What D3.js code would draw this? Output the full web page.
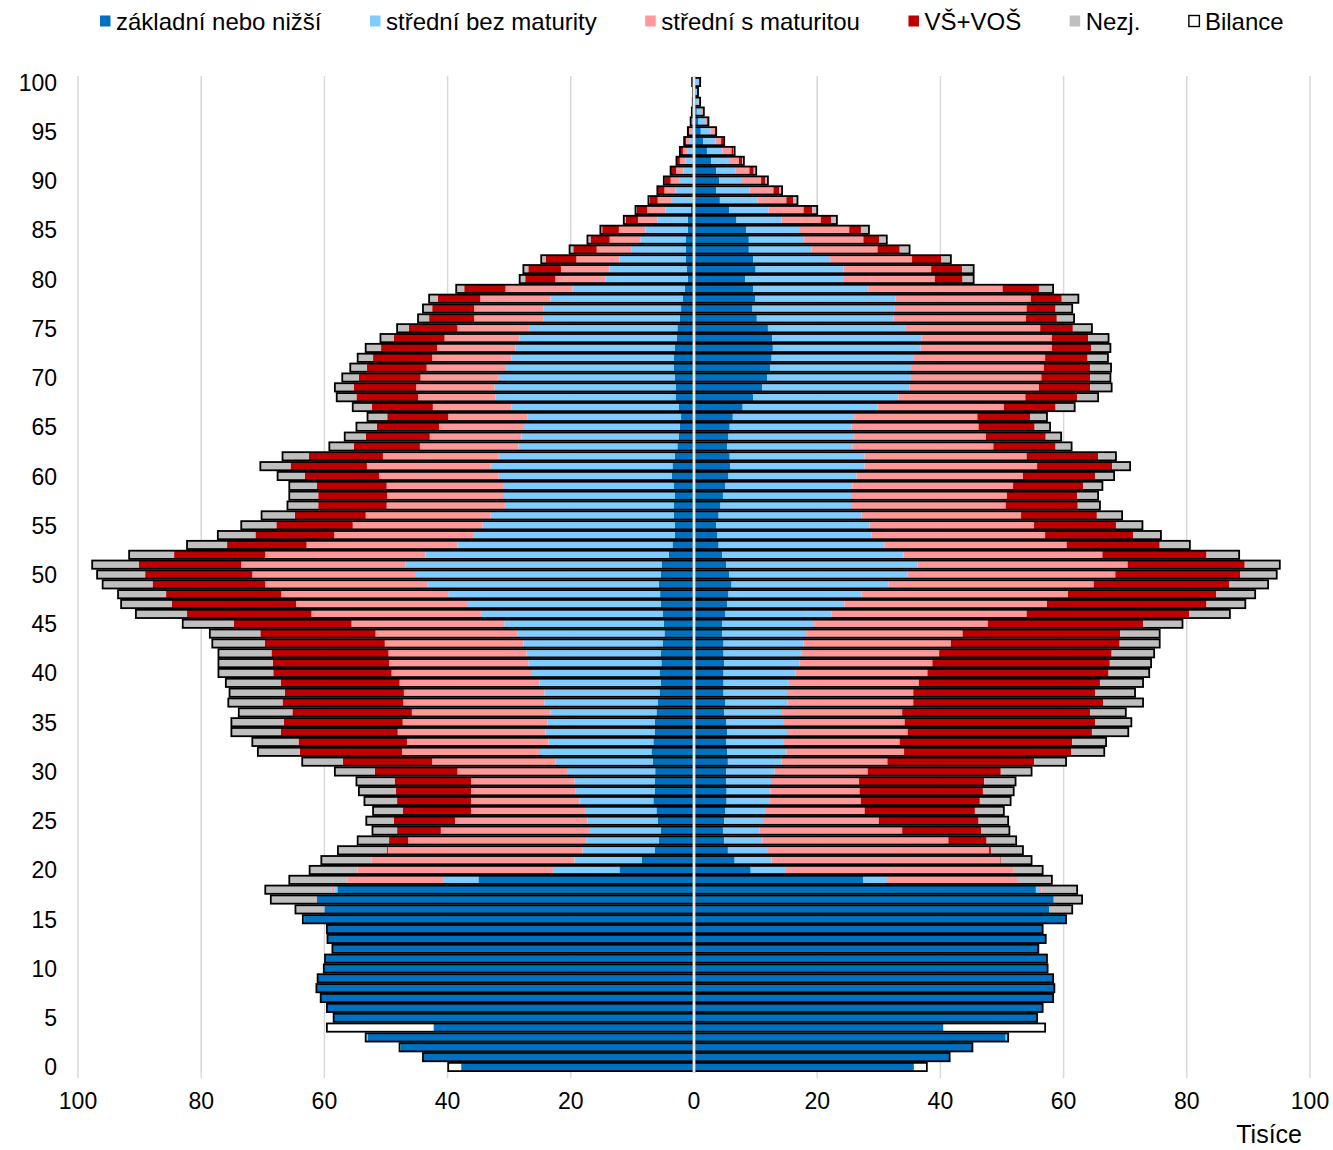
<!DOCTYPE html>
<html>
<head>
<meta charset="utf-8">
<script src="https://cdn.jsdelivr.net/npm/d3@7"></script>
<style>
  body { margin: 0; background: #fff; }
  svg { display: block; }
  text { font-family: "Liberation Sans", Arial, sans-serif; fill: #000; }
</style>
</head>
<body>
<svg id="chart" width="1333" height="1150"></svg>
<script>
// Ages 0..100, left = muži, right = ženy (tisíce)
const ages = d3.range(0, 101);
const ageTicks = [0, 5, 10, 15, 20, 25, 30, 35, 40, 45, 50, 55, 60, 65, 70, 75, 80, 85, 90, 95, 100];
const xTicks = [-100, -80, -60, -40, -20, 0, 20, 40, 60, 80, 100];

const seriesNames = ['základní nebo nižší', 'střední bez maturity', 'střední s maturitou', 'VŠ+VOŠ', 'Nezj.', 'Bilance'];
const seriesColours = ['#0070C0', '#80CBFF', '#FF9999', '#C00000', '#BFBFBF', '#FFFFFF'];

// index = age
const muziZakladni = [
  37.8, 44.0, 47.6, 53.0, 42.3, 58.5, 59.6, 60.6, 61.3, 61.1,
  60.1, 59.9, 58.7, 59.5, 59.6, 63.3, 60.0, 61.2, 57.9, 35.0,
  12.1, 8.5, 6.4, 5.7, 5.4, 5.9, 6.1, 6.6, 6.4, 6.4,
  6.3, 6.7, 6.9, 6.6, 6.4, 6.4, 6.1, 5.9, 5.6, 5.4,
  5.6, 5.3, 5.4, 5.1, 4.8, 4.9, 5.1, 5.4, 5.5, 5.7,
  5.4, 5.2, 4.1, 3.5, 3.1, 3.1, 3.3, 3.3, 3.1, 3.3,
  3.6, 3.5, 3.1, 2.7, 2.5, 2.3, 2.1, 2.5, 3.0, 3.0,
  3.1, 3.3, 3.3, 3.1, 2.8, 2.7, 2.3, 2.1, 1.8, 1.5,
  1.0, 1.2, 1.3, 1.3, 1.3, 1.0, 1.0, 0.5, 0.2, 0.2,
  0.2, 0.2, 0.2, 0.2, 0.2, 0.1, 0.05, 0.03, 0.02, 0.02, 0.05
];
const muziBezMat = [
  0, 0, 0.2, 0.3, 0, 0, 0, 0, 0, 0,
  0, 0, 0, 0, 0, 0, 0, 0, 0.5, 5.6,
  10.8, 10.9, 11.7, 11.8, 11.5, 11.4, 11.6, 12.0, 12.8, 13.0,
  14.3, 15.8, 18.1, 17.0, 17.7, 17.4, 17.2, 18.4, 18.7, 19.7,
  20.7, 21.6, 21.8, 22.6, 23.9, 25.9, 29.5, 31.3, 34.4, 37.6,
  39.9, 41.6, 39.5, 34.9, 32.6, 31.2, 29.7, 27.4, 27.9, 27.7,
  28.1, 29.5, 28.6, 25.8, 25.5, 25.3, 24.9, 27.1, 29.2, 29.4,
  28.6, 27.2, 26.3, 25.9, 25.5, 24.1, 22.1, 22.3, 21.5, 18.2,
  13.4, 12.5, 10.8, 8.8, 7.4, 6.9, 4.9, 4.1, 3.4, 2.8,
  2.1, 1.5, 1.2, 0.8, 0.5, 0.4, 0.25, 0.15, 0.1, 0.07, 0.15
];
const muziSMat = [
  0, 0, 0, 0, 0, 0, 0, 0, 0, 0,
  0, 0, 0, 0, 0, 0, 0, 0, 0.4, 15.6,
  31.7, 32.9, 31.6, 28.9, 24.2, 21.5, 18.5, 17.6, 17.0, 16.8,
  17.8, 20.0, 22.4, 23.0, 24.0, 23.5, 22.5, 22.9, 22.8, 22.7,
  22.8, 22.6, 22.4, 22.5, 23.0, 24.8, 27.5, 27.9, 27.1, 26.3,
  26.4, 26.7, 26.0, 24.5, 22.7, 21.1, 20.3, 19.2, 18.8, 18.9,
  19.4, 20.1, 18.8, 16.0, 14.9, 13.8, 12.9, 12.8, 12.6, 12.7,
  12.7, 12.9, 12.9, 12.7, 12.2, 11.6, 11.3, 11.3, 11.4, 10.9,
  8.1, 7.9, 7.0, 5.7, 5.0, 4.3, 3.2, 3.0, 2.3, 1.8,
  1.5, 1.2, 0.9, 0.8, 0.6, 0.3, 0.15, 0.1, 0.05, 0.03, 0.05
];
const muziVS = [
  0, 0, 0, 0, 0, 0, 0, 0, 0, 0,
  0, 0, 0, 0, 0, 0, 0, 0, 0, 0,
  0, 0, 0.2, 3.1, 7.1, 9.9, 11.1, 12.0, 12.2, 12.4,
  13.4, 14.5, 16.6, 17.6, 19.0, 19.3, 19.4, 19.6, 19.3, 19.3,
  19.2, 18.9, 19.0, 19.5, 18.7, 19.1, 20.2, 20.2, 18.7, 18.3,
  17.4, 16.6, 14.8, 12.9, 12.8, 12.4, 11.5, 11.1, 11.2, 11.3,
  12.1, 12.4, 12.0, 10.7, 10.4, 10.1, 9.9, 9.9, 10.0, 10.1,
  10.0, 9.7, 9.6, 9.1, 8.2, 7.9, 7.3, 6.8, 6.9, 6.7,
  4.9, 5.3, 5.0, 3.8, 3.1, 2.7, 2.0, 1.7, 1.3, 1.1,
  1.0, 0.9, 0.5, 0.5, 0.3, 0.2, 0.1, 0.07, 0.03, 0.03, 0.05
];
const muziNezj = [
  0, 0, 0, 0, 0, 0, 0, 0, 0, 0,
  0, 0, 0, 0, 0, 0.2, 4.7, 7.5, 10.8, 9.5,
  7.8, 8.2, 7.9, 5.1, 4.0, 4.5, 4.8, 5.3, 6.0, 6.2,
  6.5, 6.6, 6.8, 7.5, 8.0, 8.5, 8.7, 8.8, 9.0, 8.9,
  8.9, 8.8, 8.6, 8.5, 8.2, 8.3, 8.3, 8.2, 7.8, 8.1,
  7.8, 7.6, 7.3, 6.5, 6.1, 5.7, 5.4, 5.0, 4.7, 4.5,
  4.4, 4.9, 4.3, 4.0, 3.4, 3.3, 3.2, 3.1, 3.2, 3.1,
  2.7, 2.7, 2.5, 2.5, 2.2, 1.9, 1.8, 1.5, 1.4, 1.3,
  0.9, 0.8, 0.7, 0.6, 0.5, 0.3, 0.3, 0.2, 0.2, 0.05,
  0.1, 0, 0.05, 0, 0, 0, 0, 0, 0, 0, 0
];

const zenyZakladni = [
  35.7, 41.5, 45.2, 50.6, 40.5, 55.7, 56.6, 58.3, 58.5, 58.3,
  57.4, 57.3, 55.9, 57.1, 56.6, 60.4, 57.7, 58.4, 55.5, 27.5,
  9.2, 6.6, 5.5, 4.9, 4.7, 4.9, 5.1, 5.3, 5.3, 5.2,
  5.2, 5.5, 5.4, 5.2, 5.4, 5.2, 4.9, 5.1, 4.8, 4.8,
  4.8, 4.9, 4.8, 4.8, 4.6, 4.6, 5.1, 5.4, 5.6, 6.1,
  5.7, 5.2, 4.6, 4.0, 3.8, 3.6, 4.0, 4.3, 4.7, 5.1,
  5.6, 5.9, 5.8, 5.4, 5.6, 5.8, 6.3, 7.9, 9.6, 11.1,
  11.9, 12.4, 12.6, 12.8, 12.7, 12.0, 10.2, 9.5, 9.9, 9.6,
  8.3, 10.0, 9.6, 8.9, 8.9, 8.5, 6.9, 5.7, 4.2, 3.6,
  4.1, 3.6, 2.8, 2.1, 1.5, 1.1, 0.65, 0.45, 0.25, 0.15, 0.2
];
const zenyBezMat = [
  0, 0, 0, 0.4, 0, 0, 0, 0, 0, 0,
  0, 0, 0, 0, 0, 0, 0, 0, 0.5, 3.8,
  5.6, 6.0, 6.5, 6.2, 5.9, 6.3, 6.6, 6.9, 7.1, 7.3,
  7.9, 8.7, 9.6, 9.4, 9.7, 9.4, 9.4, 10.1, 10.3, 10.6,
  11.7, 12.2, 12.6, 13.0, 13.6, 14.9, 17.2, 19.0, 21.6, 25.5,
  29.0, 31.1, 29.4, 26.9, 25.0, 24.9, 23.2, 21.2, 20.8, 20.6,
  20.8, 21.8, 21.9, 20.3, 20.4, 19.8, 19.7, 21.9, 23.6, 23.9,
  23.3, 22.8, 23.1, 24.0, 24.2, 22.4, 22.2, 23.1, 22.8, 18.7,
  15.9, 14.3, 12.5, 10.2, 9.0, 8.7, 7.3, 6.4, 6.1, 5.4,
  3.7, 3.1, 2.9, 2.5, 2.0, 1.6, 1.15, 0.7, 0.5, 0.35, 0.6
];
const zenySMat = [
  0, 0, 0, 0, 0, 0, 0, 0, 0, 0,
  0, 0, 0, 0, 0, 0, 0, 0, 0.4, 21.3,
  37.0, 37.1, 35.9, 30.2, 23.2, 18.8, 16.0, 14.9, 14.5, 14.3,
  15.1, 17.2, 19.1, 18.8, 19.6, 19.6, 19.5, 20.4, 20.5, 21.1,
  21.4, 21.6, 22.4, 23.9, 25.4, 28.2, 31.7, 32.9, 33.5, 33.3,
  33.7, 34.1, 32.3, 29.6, 28.2, 26.7, 25.9, 25.1, 25.3, 26.1,
  27.0, 28.0, 26.3, 22.9, 21.4, 20.6, 20.0, 20.5, 20.6, 21.0,
  21.2, 21.6, 21.3, 21.3, 21.2, 21.8, 21.5, 21.4, 22.0, 21.8,
  14.9, 14.2, 13.3, 10.7, 9.6, 8.0, 6.4, 5.7, 4.7, 3.9,
  3.1, 2.3, 1.6, 1.5, 0.9, 0.8, 0.35, 0.3, 0.2, 0.1, 0.1
];
const zenyVS = [
  0, 0, 0, 0, 0, 0, 0, 0, 0, 0,
  0, 0, 0, 0, 0, 0, 0, 0, 0, 0,
  0, 0.1, 0.3, 6.2, 12.8, 16.2, 17.9, 19.3, 20.0, 20.3,
  21.6, 23.8, 27.1, 28.0, 29.9, 30.9, 30.5, 30.8, 29.5, 29.4,
  29.4, 28.8, 28.0, 27.4, 25.6, 25.2, 26.4, 25.9, 24.1, 22.0,
  20.3, 19.0, 16.9, 15.1, 14.3, 13.3, 12.3, 11.7, 11.4, 11.4,
  11.7, 12.2, 11.6, 10.1, 9.7, 9.1, 8.6, 8.4, 8.4, 8.3,
  7.9, 7.5, 6.9, 6.4, 5.9, 5.3, 5.0, 4.7, 5.0, 5.9,
  4.5, 5.0, 4.7, 3.6, 2.6, 1.9, 1.7, 1.4, 1.1, 0.9,
  0.7, 0.7, 0.5, 0.3, 0.4, 0.1, 0.2, 0.15, 0.03, 0.03, 0.05
];
const zenyNezj = [
  0, 0, 0, 0, 0, 0, 0, 0, 0, 0,
  0, 0, 0, 0, 0, 0, 3.7, 4.6, 5.8, 5.5,
  4.8, 5.0, 5.2, 4.8, 4.6, 4.8, 4.7, 5.0, 5.0, 5.1,
  5.0, 5.2, 5.4, 5.5, 5.9, 5.9, 5.8, 6.5, 6.5, 7.0,
  6.6, 6.7, 6.9, 6.5, 6.4, 6.4, 6.6, 6.3, 6.3, 6.3,
  5.9, 5.7, 5.3, 4.9, 4.5, 4.3, 4.1, 3.6, 3.4, 3.1,
  3.1, 2.9, 2.9, 2.6, 2.5, 2.5, 2.7, 3.1, 3.4, 3.5,
  3.3, 3.4, 3.3, 3.1, 3.3, 3.1, 2.8, 2.7, 2.7, 2.3,
  1.8, 1.9, 1.6, 1.6, 1.2, 1.3, 0.9, 0.8, 0.7, 0.5,
  0.4, 0.4, 0.3, 0.2, 0.1, 0, 0, 0, 0.02, 0.02, 0.05
];

// Bilance – only ages where it sticks out past the education groups
const bilanceVeky = [0, 4];
const muziBilance = [2.1, 17.3];
const zenyBilance = [2.1, 16.5];

// Set up
const svg = d3.select('#chart');

const x = d3.scaleLinear().domain([-100, 100]).range([78, 1310]);
const y = d3.scaleBand()
    .domain(ages.slice().reverse())
    .range([77.1, 1071.9])
    .paddingInner(0);

const keys = ['zakl', 'sbm', 'ssm', 'vs', 'nezj', 'bil'];
const colour = d3.scaleOrdinal().domain(keys).range(seriesColours);

function buildRows(zakl, sbm, ssm, vs, nezj, bil) {
    return ages.map(a => {
        const i = bilanceVeky.indexOf(a);
        return {
            age: a,
            zakl: zakl[a], sbm: sbm[a], ssm: ssm[a], vs: vs[a], nezj: nezj[a],
            bil: i >= 0 ? bil[i] : 0
        };
    });
}

const sides = [
    { sign: -1, rows: buildRows(muziZakladni, muziBezMat, muziSMat, muziVS, muziNezj, muziBilance) },
    { sign: 1, rows: buildRows(zenyZakladni, zenyBezMat, zenySMat, zenyVS, zenyNezj, zenyBilance) }
];

// Gridlines
svg.append('g')
    .selectAll('line')
    .data(xTicks.filter(t => t !== 0))
    .join('line')
    .attr('x1', d => x(d)).attr('x2', d => x(d))
    .attr('y1', 76).attr('y2', 1078)
    .attr('stroke', '#d9d9d9')
    .attr('stroke-width', 1.5);

const bh = y.bandwidth();
const inset = 0.8;

sides.forEach(side => {
    const stacked = d3.stack().keys(keys)(side.rows);
    const g = svg.append('g');

    // segments
    stacked.forEach(layer => {
        g.append('g')
            .attr('fill', colour(layer.key))
            .selectAll('rect')
            .data(layer.filter(d => d[1] - d[0] > 0))
            .join('rect')
            .attr('x', d => Math.min(x(side.sign * d[0]), x(side.sign * d[1])))
            .attr('width', d => Math.abs(x(side.sign * d[1]) - x(side.sign * d[0])))
            .attr('y', d => y(d.data.age) + inset)
            .attr('height', bh - 2 * inset);
    });

    // outline round the whole bar
    const last = stacked[stacked.length - 1];
    g.append('g')
        .selectAll('rect')
        .data(last)
        .join('rect')
        .attr('x', d => Math.min(x(0), x(side.sign * d[1])))
        .attr('width', d => Math.abs(x(side.sign * d[1]) - x(0)))
        .attr('y', d => y(d.data.age) + inset)
        .attr('height', bh - 2 * inset)
        .attr('fill', 'none')
        .attr('stroke', '#000')
        .attr('stroke-width', 1.8);
});

// centre line
svg.append('line')
    .attr('x1', x(0)).attr('x2', x(0))
    .attr('y1', 76).attr('y2', 1073)
    .attr('stroke', '#bfbfbf').attr('stroke-width', 3);
svg.append('line')
    .attr('x1', x(0)).attr('x2', x(0))
    .attr('y1', 76).attr('y2', 1073)
    .attr('stroke', '#fff').attr('stroke-width', 1.3);

// Y labels
svg.append('g')
    .selectAll('text')
    .data(ageTicks)
    .join('text')
    .attr('x', 57)
    .attr('y', d => y(d) + bh / 2 + 8.5)
    .attr('text-anchor', 'end')
    .style('font-size', '23px')
    .text(d => d);

// X labels
svg.append('g')
    .selectAll('text')
    .data(xTicks)
    .join('text')
    .attr('x', d => x(d))
    .attr('y', 1109)
    .attr('text-anchor', 'middle')
    .style('font-size', '23px')
    .text(d => Math.abs(d));

svg.append('text')
    .attr('x', 1302).attr('y', 1143)
    .attr('text-anchor', 'end')
    .style('font-size', '25px')
    .text('Tisíce');

// Legend
const legend = svg.append('g');
let lx = 100;
seriesNames.forEach((name, i) => {
    legend.append('rect')
        .attr('x', lx).attr('y', 15.5)
        .attr('width', 10.5).attr('height', 11)
        .attr('fill', seriesColours[i])
        .attr('stroke', i === 5 ? '#000' : 'none')
        .attr('stroke-width', 1.4);
    const t = legend.append('text')
        .attr('x', lx + 16).attr('y', 30)
        .style('font-size', '24px')
        .text(name);
    lx += 16 + t.node().getComputedTextLength() + 48.5;
});
</script>
</body>
</html>
